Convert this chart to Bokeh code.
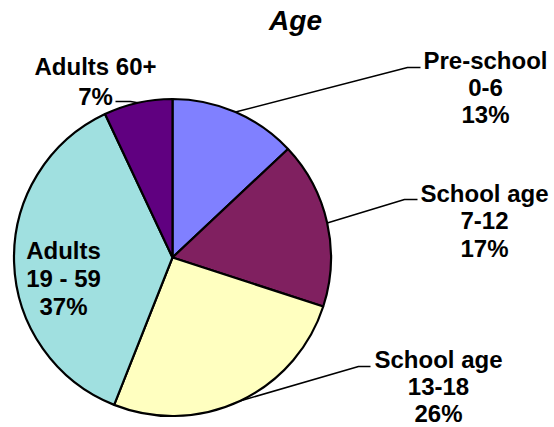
import math
from bokeh.plotting import figure
from bokeh.models import Range1d, ColumnDataSource
from bokeh.core.properties import value
from bokeh.embed import file_html
from bokeh.resources import INLINE

# ---- data ----
categories = ["Pre-school", "School age", "School age", "Adults", "Adults 60+"]
age_ranges = ["0-6", "7-12", "13-18", "19 - 59", ""]
shares = [13, 17, 26, 37, 7]
colors = ["#8080FF", "#802060", "#FFFFC0", "#A0E0E0", "#600080"]
title_text = "Age"

# ---- layout (screen pixel coords, y downward) ----
W, H = 554, 427
CX, CY, R = 172, 257, 158.5
TEXT_SHIFT = 7   # compensation for baseline placement of svg text

def X(sx):
    return sx

def Y(sy):
    return H - sy

p = figure(width=W, height=H, output_backend="svg", toolbar_location=None,
           x_range=Range1d(0, W), y_range=Range1d(0, H),
           min_border=0)
p.axis.visible = False
p.xgrid.visible = False
p.ygrid.visible = False
p.outline_line_color = None
p.background_fill_color = "white"
p.border_fill_color = "white"

total = float(sum(shares))
starts, ends, mids = [], [], []
cum = 0.0
for s in shares:
    f0 = cum / total
    cum += s
    f1 = cum / total
    starts.append(math.pi / 2 - 2 * math.pi * f0)
    ends.append(math.pi / 2 - 2 * math.pi * f1)
    mids.append((f0 + f1) / 2)

src = ColumnDataSource(dict(start=starts, end=ends, color=colors,
                            x=[X(CX)] * len(shares), y=[Y(CY)] * len(shares)))
p.wedge(x="x", y="y", radius=R, start_angle="start", end_angle="end",
        direction="clock", fill_color="color", line_color="black",
        line_width=2.2, source=src)

# ---- leader lines: edge point (from data) -> elbow -> label end ----
elbows = {
    0: [(407, 67), (420, 67)],
    1: [(404, 199), (417, 199)],
    2: [(358, 366), (370, 366)],
    4: [(130, 101), (115, 101)],
}
for i, pts in elbows.items():
    a = 2 * math.pi * mids[i]
    ex = CX + R * math.sin(a)
    ey = CY - R * math.cos(a)
    xs = [X(ex)] + [X(px) for px, py in pts]
    ys = [Y(ey)] + [Y(py) for px, py in pts]
    p.line(xs, ys, line_color="black", line_width=1.5)

# ---- labels ----
label_pos = {
    0: (485, [67, 94, 121]),
    1: (484, [200, 227, 255]),
    2: (438, [366, 393, 420]),
    3: (63, [257, 285, 313]),
    4: (95, [73, 103]),
}
for i, (lx, bases) in label_pos.items():
    if i == 4:
        lines = [categories[i], f"{shares[i]}%"]
    else:
        lines = [categories[i], age_ranges[i], f"{shares[i]}%"]
    p.text(x=[X(lx)] * len(lines), y=[Y(b - TEXT_SHIFT) for b in bases], text=lines,
           text_font=value("Liberation Sans"), text_font_style="bold",
           text_font_size="24px", text_align="center",
           text_baseline="alphabetic", text_color="black")

p.text(x=[X(295)], y=[Y(28 - TEXT_SHIFT - 1)], text=[title_text],
       text_font=value("Liberation Sans"), text_font_style="bold italic",
       text_font_size="28px", text_align="center",
       text_baseline="alphabetic", text_color="black")

open("out.html", "w").write(file_html(p, INLINE))
